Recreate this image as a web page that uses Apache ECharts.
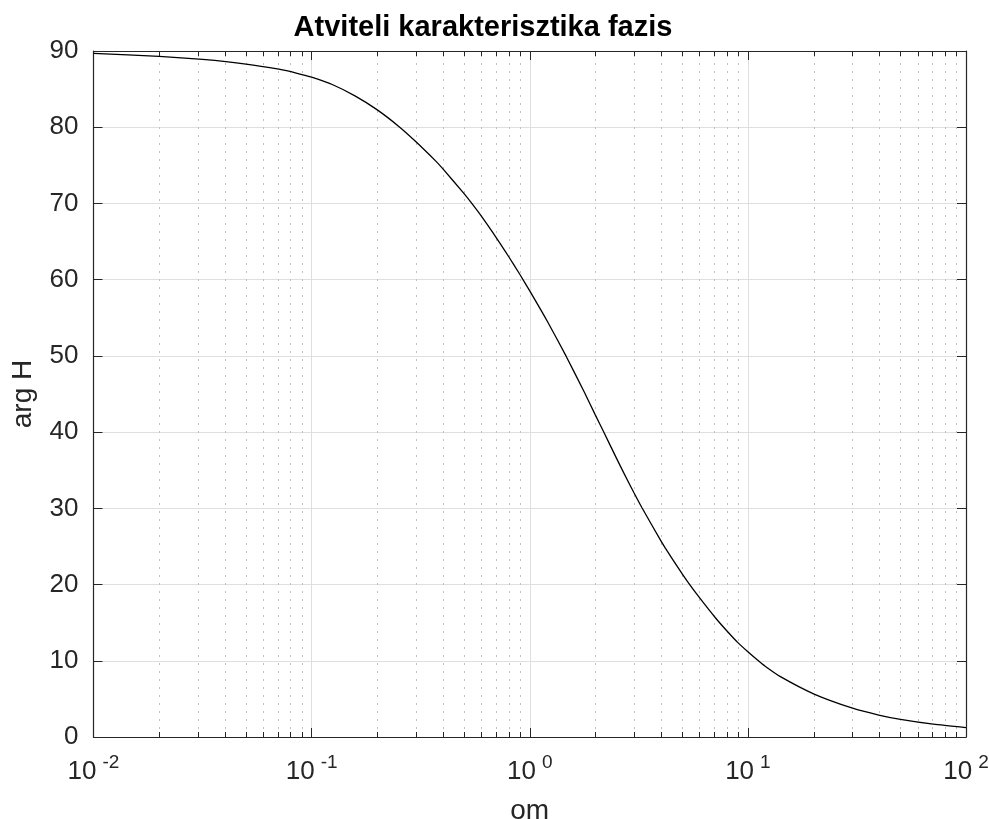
<!DOCTYPE html>
<html>
<head>
<meta charset="utf-8">
<script src="https://cdn.jsdelivr.net/npm/echarts@6/dist/echarts.min.js"></script>
<style>
html,body{margin:0;padding:0;background:#fff;}
#chart{width:989px;height:819px;}
</style>
</head>
<body>
<div id="chart"></div>
<script>
// ---- data ----
var omega = [0.01,0.02,0.0316,0.05,0.0708,0.085,0.1,0.125,0.158,0.2,0.251,0.3,0.372,0.4,0.5,0.537,0.6,0.708,0.8,0.9,1,1.2,1.47,1.78,2,2.17,2.5,2.69,3,3.27,4,4.17,5,5.37,6,7.08,8,9,10,11,12,14.1,20,30.2,39.8,50.1,70.8,100];
var argH  = [89.70,89.30,88.89,88.29,87.61,87.11,86.56,85.57,84.11,82.28,80.11,78.13,75.52,74.53,71.28,70.16,68.33,65.36,63.04,60.71,58.53,54.61,49.93,45.22,42.23,40.17,36.55,34.72,32.08,30.07,25.69,24.85,21.39,20.12,18.28,15.68,13.94,12.38,11.18,10.16,9.29,7.92,5.67,3.78,2.88,2.31,1.68,1.23];
var yTicks = [0,10,20,30,40,50,60,70,80,90];
var xDecades = [0.01,0.1,1,10,100];
var minorX = [];
for (var d = 0; d < xDecades.length - 1; d++) {
  for (var m = 2; m <= 9; m++) minorX.push(+(xDecades[d] * m).toPrecision(3));
}
var titleText = 'Atviteli karakterisztika fazis';
var xName = 'om';
var yName = 'arg H';

var FONT = '"Liberation Sans", Arial, Helvetica, sans-serif';
var AX = '#262626';

var chart = echarts.init(document.getElementById('chart'), null, {renderer: 'canvas'});

function xAxisBase(pos, showLabel) {
  return {
    type: 'log', logBase: 10, position: pos,
    min: xDecades[0], max: xDecades[xDecades.length - 1], interval: 1,
    axisLine: {show: true, onZero: false, lineStyle: {color: AX, width: 1.2}},
    axisTick: {show: true, inside: true, length: 9, lineStyle: {color: AX, width: 1}},
    splitLine: {show: showLabel, lineStyle: {color: '#dfdfdf', width: 1}},
    minorTick: {show: false}, minorSplitLine: {show: false},
    axisLabel: showLabel ? {
      show: true, margin: 16, showMinLabel: true, showMaxLabel: true, hideOverlap: false,
      formatter: function (v) {
        var e = Math.round(Math.log10(v));
        return '{b|10}{s|' + e + '}';
      },
      rich: {
        b: {fontSize: 26, fontFamily: FONT, color: AX, lineHeight: 32, verticalAlign: 'bottom'},
        s: {fontSize: 19, fontFamily: FONT, color: AX, verticalAlign: 'top', padding: [0, 0, 0, 6]}
      }
    } : {show: false},
    name: showLabel ? xName : '',
    nameLocation: 'middle', nameGap: 60,
    nameTextStyle: {fontSize: 28, fontFamily: FONT, color: AX}
  };
}
function yAxisBase(pos, showLabel) {
  return {
    type: 'value', position: pos,
    min: yTicks[0], max: yTicks[yTicks.length - 1], interval: 10,
    axisLine: {show: true, onZero: false, lineStyle: {color: AX, width: 1.2}},
    axisTick: {show: true, inside: true, length: 9, lineStyle: {color: AX, width: 1}},
    splitLine: {show: showLabel, lineStyle: {color: '#dfdfdf', width: 1}},
    axisLabel: showLabel ? {show: true, margin: 15, fontSize: 26, fontFamily: FONT, color: AX, showMinLabel: true, showMaxLabel: true} : {show: false},
    name: showLabel ? yName : '',
    nameLocation: 'middle', nameGap: 56, nameRotate: 90,
    nameTextStyle: {fontSize: 28, fontFamily: FONT, color: AX}
  };
}

var option = {
  backgroundColor: '#ffffff',
  animation: false,
  title: {
    text: titleText, left: 478, top: 8, textAlign: 'center',
    textStyle: {fontSize: 29, fontWeight: 'bold', fontFamily: FONT, color: '#000'}
  },
  grid: {left: 93.5, right: 23, top: 51, bottom: 82, containLabel: false, outerBoundsMode: 'none'},
  xAxis: [xAxisBase('bottom', true), xAxisBase('top', false)],
  yAxis: [yAxisBase('left', true), yAxisBase('right', false)],
  series: [
    {
      type: 'custom',
      xAxisIndex: 0, yAxisIndex: 0,
      silent: true, z: 1,
      data: minorX.map(function (v) { return [v, yTicks[0]]; }),
      renderItem: function (params, api) {
        var v = api.value(0);
        var pb = api.coord([v, yTicks[0]]);
        var pt = api.coord([v, yTicks[yTicks.length - 1]]);
        var x = Math.round(pb[0]) + 0.5;
        return {
          type: 'group',
          children: [
            {type: 'line', shape: {x1: x, y1: pb[1], x2: x, y2: pt[1]},
             style: {stroke: '#c0c0c0', lineWidth: 1, lineDash: [2, 6]}},
            {type: 'line', shape: {x1: x, y1: pb[1], x2: x, y2: pb[1] - 5},
             style: {stroke: AX, lineWidth: 1}},
            {type: 'line', shape: {x1: x, y1: pt[1], x2: x, y2: pt[1] + 5},
             style: {stroke: AX, lineWidth: 1}}
          ]
        };
      }
    },
    {
      type: 'line', xAxisIndex: 0, yAxisIndex: 0, z: 3,
      data: omega.map(function (w, i) { return [w, argH[i]]; }),
      showSymbol: false, symbol: 'none',
      smooth: 0.2,
      lineStyle: {color: '#000', width: 1.3}
    }
  ]
};
chart.setOption(option);
</script>
</body>
</html>
